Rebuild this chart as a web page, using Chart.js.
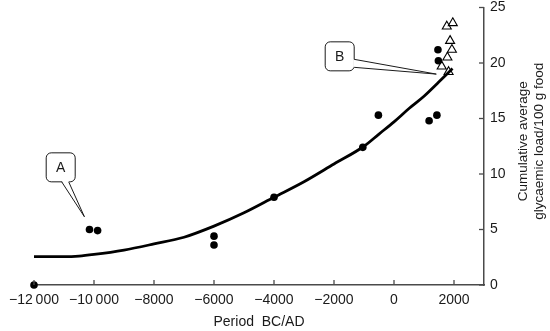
<!DOCTYPE html>
<html>
<head>
<meta charset="utf-8">
<script src="https://cdn.jsdelivr.net/npm/chart.js@4.4.1/dist/chart.umd.min.js"></script>
<style>
  html, body { margin: 0; padding: 0; background: #fff; }
  #wrap { width: 550px; height: 331px; position: relative; }
</style>
</head>
<body>
<div id="wrap"><canvas id="chart"></canvas></div>
<script>
// fitted curve
const curveYears = [-12000, -11000, -10500, -10000, -9000, -8000, -7000, -6000, -5000, -4000, -3000, -2000, -1000, -500, 0, 500, 1000, 1500, 1950];
const curveLoad  = [2.55, 2.55, 2.6, 2.75, 3.15, 3.7, 4.3, 5.3, 6.5, 7.9, 9.3, 10.9, 12.5, 13.6, 14.7, 15.9, 17.0, 18.3, 19.5];

// filled circles
const siteYears = [-12000, -10150, -9880, -6000, -6000, -4000, -1040, -520, 1170, 1430, 1465, 1480];
const siteLoad  = [0, 5.0, 4.9, 4.4, 3.6, 7.9, 12.4, 15.3, 14.8, 15.3, 21.2, 20.2];

// open triangles
const modernYears = [1960, 1760, 1870, 1930, 1780, 1590, 1820];
const modernLoad  = [23.6, 23.3, 22.0, 21.2, 20.5, 19.7, 19.2];

const xTickValues = [-12000, -10000, -8000, -6000, -4000, -2000, 0, 2000];
const xTickLabels = ['\u221212\u2009000', '\u221210\u2009000', '\u22128000', '\u22126000', '\u22124000', '\u22122000', '0', '2000'];
const yTickValues = [0, 5, 10, 15, 20, 25];
const yTickLabels = ['0', '5', '10', '15', '20', '25'];

// callouts: label, box centre and pointer tip in data units
const calloutLabels   = ['A', 'B'];
const calloutBoxYears = [-11110, -1810];
const calloutBoxLoad  = [10.6, 20.6];
const calloutTipYears = [-10320, 1410];
const calloutTipLoad  = [6.15, 19.0];

const FONT = '"Liberation Sans", Arial, Helvetica, sans-serif';
const INK = '#1a1a1a';
const AXIS = '#4a4a4a';

const toPoints = (xs, ys) => xs.map((x, i) => ({ x: x, y: ys[i] }));

// tick marks pointing into the plot + rotated y title
const axisExtras = {
    id: 'axisExtras',
    afterDraw(chart) {
        const { ctx, scales: { x, y } } = chart;
        ctx.save();
        ctx.strokeStyle = AXIS;
        ctx.lineWidth = 1.3;
        const base = y.getPixelForValue(0);
        xTickValues.forEach(v => {
            const px = x.getPixelForValue(v);
            ctx.beginPath();
            ctx.moveTo(px, base);
            ctx.lineTo(px, base - 5);
            ctx.stroke();
        });
        const right = x.right;
        yTickValues.forEach(v => {
            const py = y.getPixelForValue(v);
            ctx.beginPath();
            ctx.moveTo(right, py);
            ctx.lineTo(right - 5, py);
            ctx.stroke();
        });

        ctx.fillStyle = INK;
        ctx.font = '13.5px ' + FONT;
        ctx.textAlign = 'center';
        ctx.textBaseline = 'middle';
        const cy = (y.top + y.bottom) / 2 - 5;
        ctx.translate(523, cy);
        ctx.rotate(-Math.PI / 2);
        ctx.fillText('Cumulative average', 0, 0);
        ctx.fillText('glycaemic load/100 g food', 0, 16);
        ctx.restore();
    }
};

const callouts = {
    id: 'callouts',
    afterDatasetsDraw(chart) {
        const { ctx, scales: { x, y } } = chart;
        const half = 14.5, r = 5;
        ctx.save();
        calloutLabels.forEach((label, i) => {
            const cx = x.getPixelForValue(calloutBoxYears[i]);
            const cy = y.getPixelForValue(calloutBoxLoad[i]);
            const tx = x.getPixelForValue(calloutTipYears[i]);
            const ty = y.getPixelForValue(calloutTipLoad[i]);
            // pointer leaves from the side facing the tip
            let b1, b2;
            if (Math.abs(tx - cx) > Math.abs(ty - cy)) {
                b1 = [cx + half, cy + 3];
                b2 = [cx + half, cy + 11];
            } else {
                b1 = [cx + 1, cy + half];
                b2 = [cx + 8, cy + half];
            }
            ctx.lineWidth = 1;
            ctx.strokeStyle = INK;
            ctx.fillStyle = '#fff';
            ctx.beginPath();
            ctx.roundRect(cx - half, cy - half, half * 2, half * 2, r);
            ctx.fill();
            ctx.stroke();
            // cover the edge under the pointer
            ctx.beginPath();
            if (b1[0] === b2[0]) {
                ctx.moveTo(b1[0] - 1, b1[1]);
                ctx.lineTo(tx, ty);
                ctx.lineTo(b2[0] - 1, b2[1]);
            } else {
                ctx.moveTo(b1[0], b1[1] - 1);
                ctx.lineTo(tx, ty);
                ctx.lineTo(b2[0], b2[1] - 1);
            }
            ctx.closePath();
            ctx.fill();
            ctx.beginPath();
            ctx.moveTo(b1[0], b1[1]);
            ctx.lineTo(tx, ty);
            ctx.lineTo(b2[0], b2[1]);
            ctx.stroke();

            ctx.fillStyle = INK;
            ctx.font = '14px ' + FONT;
            ctx.textAlign = 'center';
            ctx.textBaseline = 'middle';
            ctx.fillText(label, cx, cy + 1);
        });
        ctx.restore();
    }
};

new Chart(document.getElementById('chart'), {
    type: 'scatter',
    data: {
        datasets: [
            {
                label: 'sites',
                data: toPoints(siteYears, siteLoad),
                pointStyle: 'circle',
                pointRadius: 3.8,
                backgroundColor: '#000',
                borderWidth: 0,
                clip: false
            },
            {
                label: 'modern',
                data: toPoints(modernYears, modernLoad),
                pointStyle: 'triangle',
                pointRadius: 5.2,
                backgroundColor: 'rgba(0,0,0,0)',
                borderColor: '#000',
                borderWidth: 1.1,
                clip: false
            },
            {
                label: 'curve',
                data: toPoints(curveYears, curveLoad),
                showLine: true,
                pointRadius: 0,
                borderColor: '#000',
                borderWidth: 2.8,
                cubicInterpolationMode: 'monotone',
                clip: false
            }
        ]
    },
    options: {
        responsive: true,
        maintainAspectRatio: false,
        animation: false,
        events: [],
        layout: { padding: { left: 34, top: 0, right: 0, bottom: 0 } },
        plugins: {
            legend: { display: false },
            tooltip: { enabled: false }
        },
        scales: {
            x: {
                type: 'linear',
                min: -12000,
                max: 3000,
                afterBuildTicks: s => { s.ticks = xTickValues.map(v => ({ value: v })); },
                afterFit: s => { s.height = 46; },
                grid: { drawOnChartArea: false, drawTicks: false },
                border: { display: true, color: AXIS, width: 1.5 },
                ticks: {
                    padding: 7,
                    color: INK,
                    maxRotation: 0,
                    autoSkip: false,
                    font: { family: FONT, size: 14 },
                    callback: (v, i) => xTickLabels[i]
                },
                title: {
                    display: true,
                    text: 'Period  BC/AD',
                    color: INK,
                    font: { family: FONT, size: 14 },
                    padding: { top: 0, bottom: 0 }
                }
            },
            y: {
                type: 'linear',
                position: 'right',
                min: 0,
                max: 25,
                afterBuildTicks: s => { s.ticks = yTickValues.map(v => ({ value: v })); },
                afterFit: s => { s.width = 66; s.paddingTop = 7.5; s.paddingBottom = 0; },
                grid: { drawOnChartArea: false, drawTicks: false },
                border: { display: true, color: AXIS, width: 1.5 },
                ticks: {
                    padding: 6,
                    color: INK,
                    font: { family: FONT, size: 14 },
                    callback: (v, i) => yTickLabels[i]
                }
            }
        }
    },
    plugins: [callouts, axisExtras]
});
</script>
</body>
</html>
